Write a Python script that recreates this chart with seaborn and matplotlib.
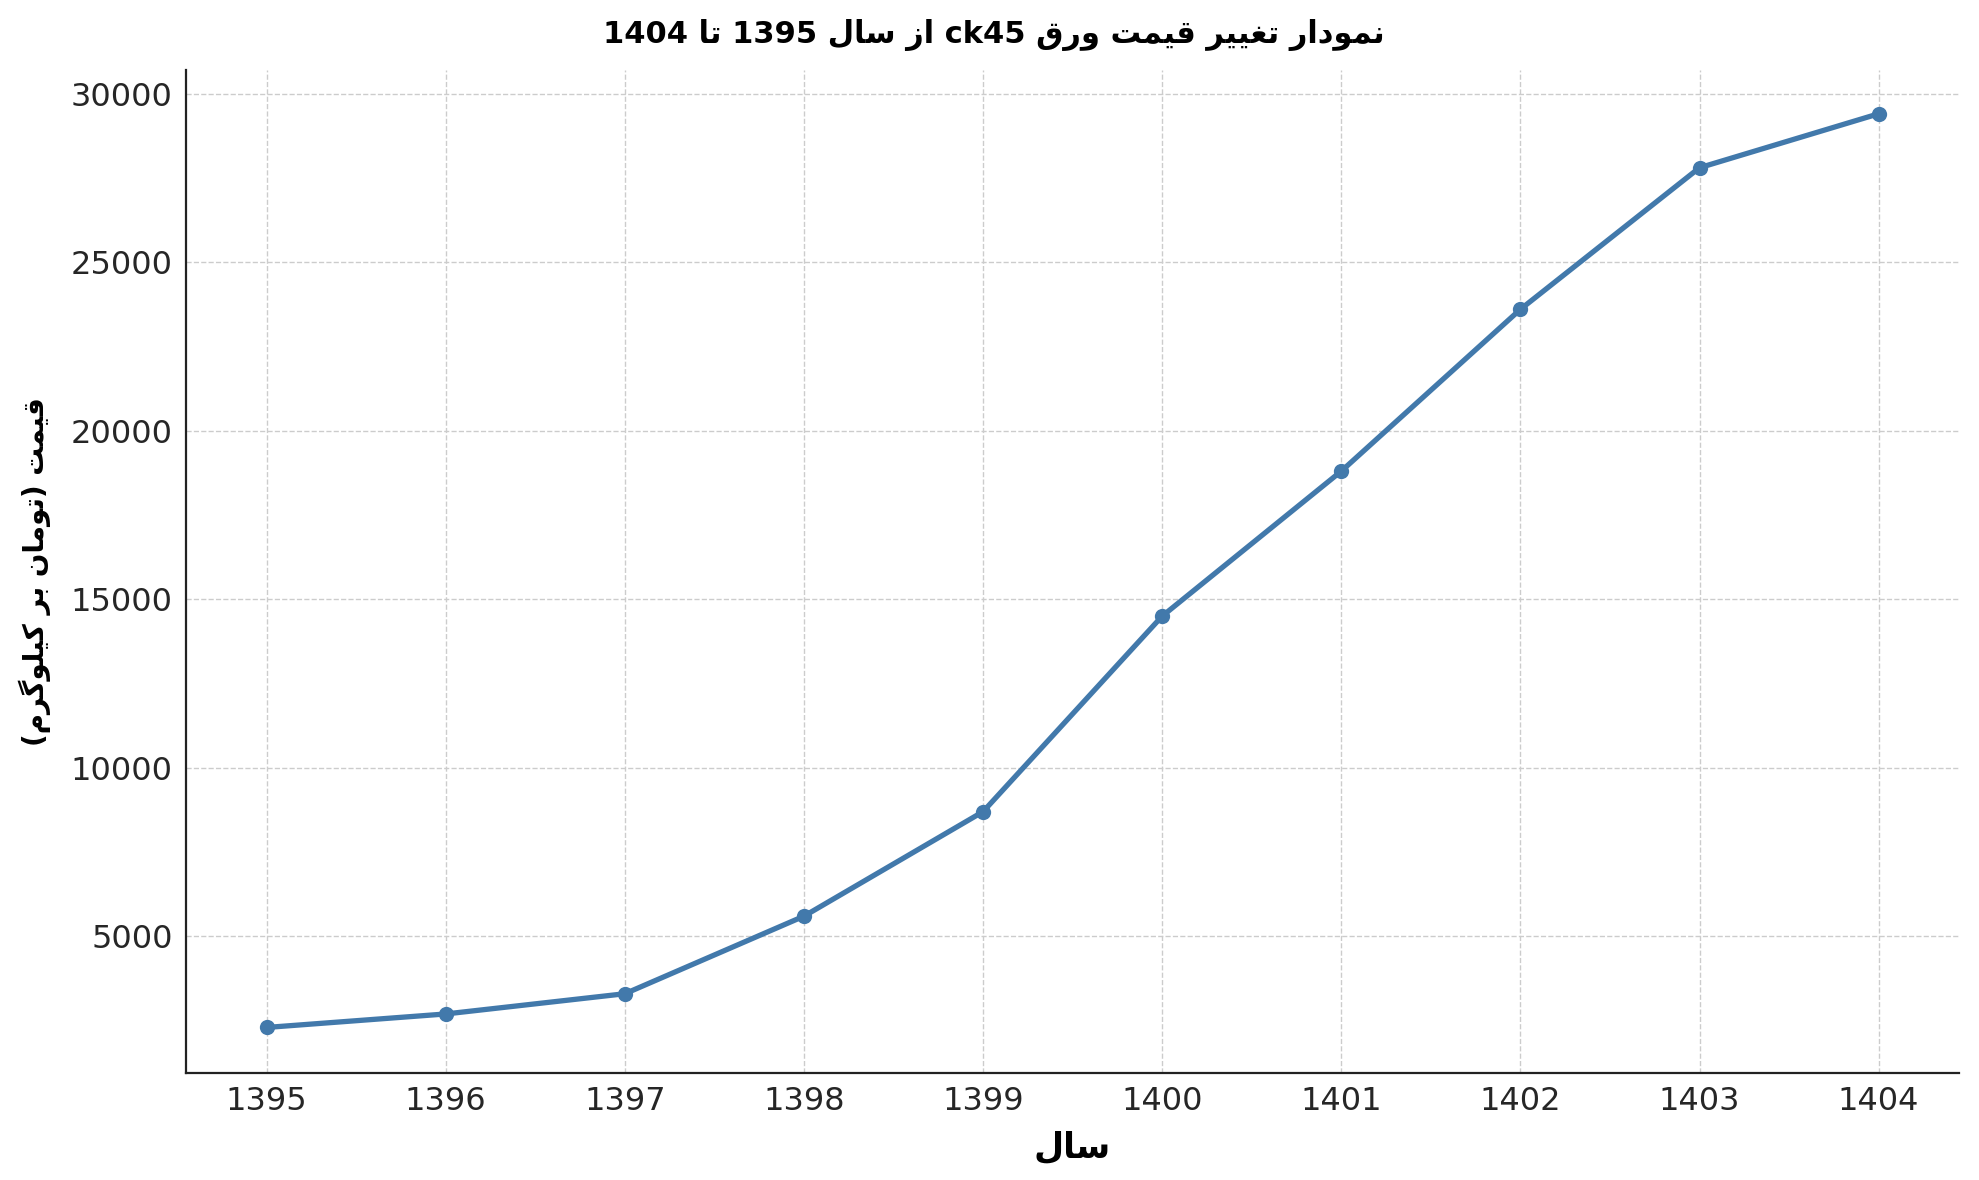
import matplotlib
matplotlib.use("Agg")
import matplotlib.pyplot as plt
import seaborn as sns
import pandas as pd
import re

years = [1395, 1396, 1397, 1398, 1399, 1400, 1401, 1402, 1403, 1404]
prices = [2300, 2700, 3300, 5600, 8700, 14500, 18800, 23600, 27800, 29400]
yticks = [5000, 10000, 15000, 20000, 25000, 30000]

title_text = "نمودار تغییر قیمت ورق ck45 از سال 1395 تا 1404"
ylabel_text = "قیمت (تومان بر کیلوگرم)"
xlabel_text = "سال"

FORMS = {
    'ا': (0xFE8D, 0xFE8E, None, None), 'ب': (0xFE8F, 0xFE90, 0xFE91, 0xFE92),
    'ت': (0xFE95, 0xFE96, 0xFE97, 0xFE98), 'د': (0xFEA9, 0xFEAA, None, None),
    'ر': (0xFEAD, 0xFEAE, None, None), 'ز': (0xFEAF, 0xFEB0, None, None),
    'س': (0xFEB1, 0xFEB2, 0xFEB3, 0xFEB4), 'غ': (0xFECD, 0xFECE, 0xFECF, 0xFED0),
    'ق': (0xFED5, 0xFED6, 0xFED7, 0xFED8), 'ل': (0xFEDD, 0xFEDE, 0xFEDF, 0xFEE0),
    'م': (0xFEE1, 0xFEE2, 0xFEE3, 0xFEE4), 'ن': (0xFEE5, 0xFEE6, 0xFEE7, 0xFEE8),
    'و': (0xFEED, 0xFEEE, None, None), 'ی': (0xFBFC, 0xFBFD, 0xFBFE, 0xFBFF),
    'ک': (0xFB8E, 0xFB8F, 0xFB90, 0xFB91), 'گ': (0xFB92, 0xFB93, 0xFB94, 0xFB95),
}

def shape(s):
    out = []
    for i, c in enumerate(s):
        if c not in FORMS:
            out.append(c); continue
        prev = s[i-1] if i > 0 else ''
        nxt = s[i+1] if i + 1 < len(s) else ''
        jp = prev in FORMS and FORMS[prev][2] is not None
        jn = nxt in FORMS and FORMS[c][2] is not None
        iso, fin, ini, med = FORMS[c]
        if jp and jn: out.append(chr(med))
        elif jp: out.append(chr(fin))
        elif jn: out.append(chr(ini))
        else: out.append(chr(iso))
    r = ''.join(out)[::-1]
    r = r.translate(str.maketrans('()', ')('))
    r = re.sub(r'[A-Za-z0-9]+', lambda m: m.group(0)[::-1], r)
    return r

df = pd.DataFrame({"year": years, "price": prices})
sns.set_style("white")
fig = plt.figure(figsize=(19.79, 11.8), dpi=100)
ax = fig.add_axes([0.094, 0.091, 0.896, 0.85])
sns.lineplot(data=df, x="year", y="price", ax=ax, color="#4279ab", linewidth=3.8,
             marker="o", markersize=11, markeredgewidth=0)
ax.set_xlim(1394.55, 1404.45)
ax.set_ylim(960, 30710)
ax.set_xticks(years)
ax.set_yticks(yticks)
ax.tick_params(labelsize=23, length=6, width=1.2)
ax.grid(True, linestyle="--", color="#cccccc", linewidth=1)
for s in ["top", "right"]:
    ax.spines[s].set_visible(False)
for s in ["left", "bottom"]:
    ax.spines[s].set_linewidth(1.6)
    ax.spines[s].set_color("#222222")
fig.text(0.502, 0.97, shape(title_text), fontsize=22, fontweight="bold", family="DejaVu Sans",
         ha="center", va="center", color="black")
ax.set_xlabel(shape(xlabel_text), fontsize=25, fontweight="bold", family="DejaVu Sans", labelpad=10, color="black")
ax.set_ylabel(shape(ylabel_text), fontsize=20, fontweight="bold", family="DejaVu Sans", labelpad=14, color="black")
fig.savefig("out.png", dpi=100)
